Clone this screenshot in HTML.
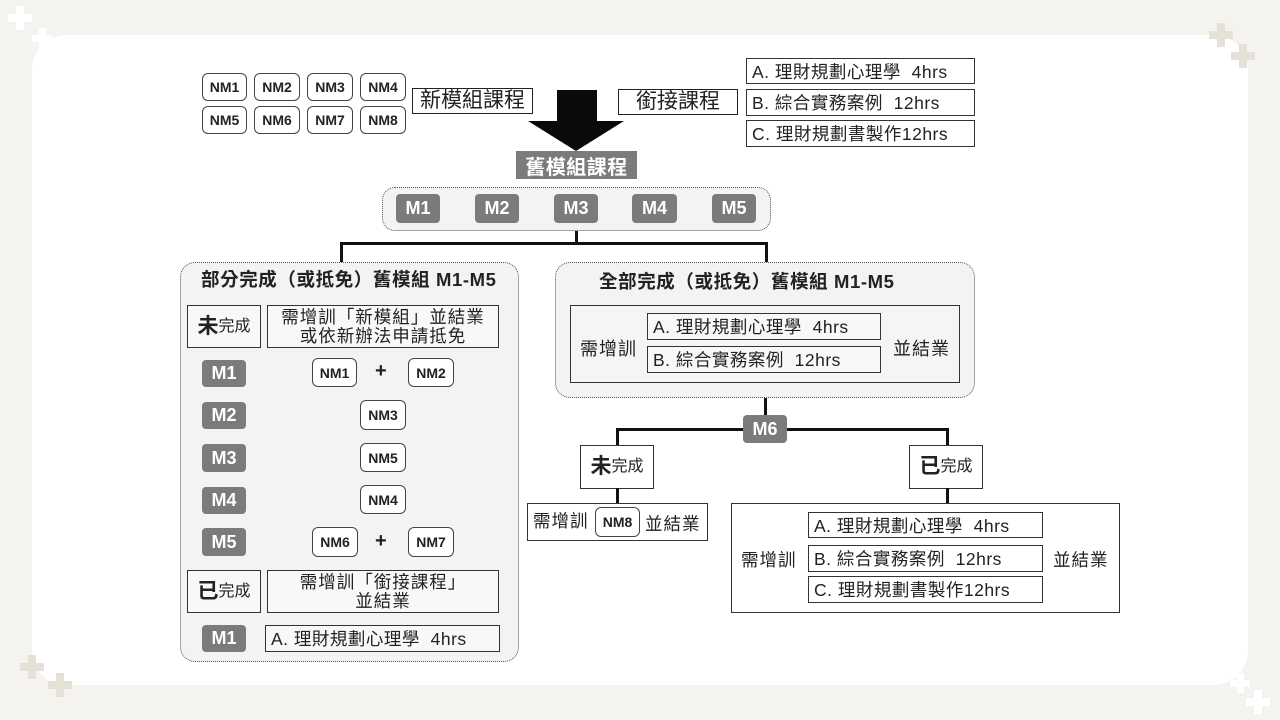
<!DOCTYPE html>
<html><head><meta charset="utf-8">
<style>
*{margin:0;padding:0;box-sizing:border-box}
html,body{width:1280px;height:720px;overflow:hidden;background:#f5f3ef}
body{position:relative;font-family:"Liberation Sans","Noto Sans CJK TC",sans-serif;color:#222}
.card{position:absolute;left:32px;top:35px;width:1216px;height:650px;background:#fff;border-radius:34px}
.x{position:absolute}
.b{position:absolute;border:1.5px solid #333;display:flex;align-items:center;justify-content:center;text-align:center;white-space:nowrap;line-height:1.1}
.nm{position:absolute;border:1.5px solid #444;border-radius:6px;background:#fff;display:flex;align-items:center;justify-content:center;font-weight:bold;font-size:14px;color:#222}
.m{position:absolute;background:#7b7b7b;border-radius:4px;color:#fff;font-weight:bold;font-size:18px;display:flex;align-items:center;justify-content:center}
.l{position:absolute;background:#111}
.dot{position:absolute;border:1.6px dotted #555;background:#f3f3f3}
.t{position:absolute;white-space:nowrap}
.abc{position:absolute;border:1.5px solid #333;background:#fff;font-size:17.5px;padding-left:5px;display:flex;align-items:center;white-space:nowrap;letter-spacing:0.5px}
.cjk{font-size:18px;letter-spacing:1px}
.plus{position:absolute;font-size:20px;font-weight:bold;color:#222}
</style></head><body>
<div class="card"></div>

<!-- crosses -->
<div class="x" style="left:8px;top:14px;width:24px;height:8px;background:#fff"></div>
<div class="x" style="left:16px;top:6px;width:8px;height:24px;background:#fff"></div>
<div class="x" style="left:32px;top:35px;width:20px;height:7px;background:#fff"></div>
<div class="x" style="left:38.5px;top:28px;width:7px;height:20px;background:#fff"></div>

<div class="x" style="left:1209px;top:31px;width:24px;height:8px;background:#e5e1d7"></div>
<div class="x" style="left:1217px;top:23px;width:8px;height:24px;background:#e5e1d7"></div>
<div class="x" style="left:1231px;top:52px;width:24px;height:8px;background:#e5e1d7"></div>
<div class="x" style="left:1239px;top:44px;width:8px;height:24px;background:#e5e1d7"></div>

<div class="x" style="left:20px;top:663px;width:24px;height:8px;background:#e5e1d7"></div>
<div class="x" style="left:28px;top:655px;width:8px;height:24px;background:#e5e1d7"></div>
<div class="x" style="left:48px;top:681px;width:24px;height:8px;background:#e5e1d7"></div>
<div class="x" style="left:56px;top:673px;width:8px;height:24px;background:#e5e1d7"></div>

<div class="x" style="left:1230px;top:680px;width:20px;height:7px;background:#fff"></div>
<div class="x" style="left:1236.5px;top:673px;width:7px;height:20px;background:#fff"></div>
<div class="x" style="left:1246px;top:698px;width:24px;height:8px;background:#fff"></div>
<div class="x" style="left:1254px;top:690px;width:8px;height:24px;background:#fff"></div>

<!-- top NM grid -->
<div class="nm" style="left:202px;top:73px;width:45px;height:28px">NM1</div>
<div class="nm" style="left:254px;top:73px;width:46px;height:28px">NM2</div>
<div class="nm" style="left:307px;top:73px;width:46px;height:28px">NM3</div>
<div class="nm" style="left:360px;top:73px;width:46px;height:28px">NM4</div>
<div class="nm" style="left:202px;top:106px;width:45px;height:28px">NM5</div>
<div class="nm" style="left:254px;top:106px;width:46px;height:28px">NM6</div>
<div class="nm" style="left:307px;top:106px;width:46px;height:28px">NM7</div>
<div class="nm" style="left:360px;top:106px;width:46px;height:28px">NM8</div>

<div class="b" style="left:412px;top:88px;width:121px;height:26px;font-size:21px;background:#fff;border-color:#222">新模組課程</div>

<!-- arrow -->
<svg style="position:absolute;left:0;top:0" width="1280" height="720">
<polygon points="557,90 597,90 597,121 624,121 576,151 528,121 557,121" fill="#0a0a0a"/>
</svg>

<div class="b" style="left:618px;top:89px;width:120px;height:26px;font-size:21px;background:#fff;border-color:#222">銜接課程</div>

<div class="abc" style="left:746px;top:58px;width:229px;height:26px">A. 理財規劃心理學&nbsp; 4hrs</div>
<div class="abc" style="left:746px;top:89px;width:229px;height:27px">B. 綜合實務案例&nbsp; 12hrs</div>
<div class="abc" style="left:746px;top:120px;width:229px;height:27px">C. 理財規劃書製作12hrs</div>

<div class="x" style="left:516px;top:151px;width:121px;height:28px;background:#7b7b7b;color:#fff;font-weight:bold;font-size:20px;display:flex;align-items:center;justify-content:center;letter-spacing:0.5px">舊模組課程</div>

<!-- M1-M5 container -->
<div class="dot" style="left:382px;top:187px;width:389px;height:44px;border-radius:13px"></div>
<div class="m" style="left:396px;top:194px;width:44px;height:29px">M1</div>
<div class="m" style="left:475px;top:194px;width:44px;height:29px">M2</div>
<div class="m" style="left:554px;top:194px;width:44px;height:29px">M3</div>
<div class="m" style="left:632px;top:194px;width:45px;height:29px">M4</div>
<div class="m" style="left:712px;top:194px;width:44px;height:29px">M5</div>

<!-- top connectors -->
<div class="l" style="left:575px;top:231px;width:3px;height:13px"></div>
<div class="l" style="left:340px;top:242px;width:428px;height:3px"></div>
<div class="l" style="left:340px;top:242px;width:3px;height:21px"></div>
<div class="l" style="left:765px;top:242px;width:3px;height:21px"></div>

<!-- left panel -->
<div class="dot" style="left:180px;top:262px;width:339px;height:400px;border-radius:15px"></div>
<div class="t" style="left:201px;top:266px;font-size:18.5px;font-weight:bold;letter-spacing:0.6px">部分完成（或抵免）舊模組 M1-M5</div>

<div class="b" style="left:187px;top:305px;width:74px;height:43px;background:#f8f8f8"><span style="font-size:21px;font-weight:bold">未</span><span style="font-size:16px">完成</span></div>
<div class="b cjk" style="left:267px;top:305px;width:232px;height:43px;background:#f8f8f8;flex-direction:column;line-height:19px;font-size:17.5px">需增訓「新模組」並結業<br>或依新辦法申請抵免</div>

<div class="m" style="left:202px;top:360px;width:44px;height:27px">M1</div>
<div class="nm" style="left:312px;top:358px;width:45px;height:29px">NM1</div>
<div class="plus" style="left:375px;top:360px">+</div>
<div class="nm" style="left:408px;top:358px;width:46px;height:29px">NM2</div>

<div class="m" style="left:202px;top:402px;width:44px;height:27px">M2</div>
<div class="nm" style="left:360px;top:400px;width:46px;height:30px">NM3</div>

<div class="m" style="left:202px;top:444px;width:44px;height:28px">M3</div>
<div class="nm" style="left:360px;top:443px;width:46px;height:29px">NM5</div>

<div class="m" style="left:202px;top:487px;width:44px;height:27px">M4</div>
<div class="nm" style="left:360px;top:485px;width:46px;height:29px">NM4</div>

<div class="m" style="left:202px;top:528px;width:44px;height:28px">M5</div>
<div class="nm" style="left:312px;top:527px;width:46px;height:30px">NM6</div>
<div class="plus" style="left:375px;top:530px">+</div>
<div class="nm" style="left:408px;top:527px;width:46px;height:30px">NM7</div>

<div class="b" style="left:187px;top:570px;width:74px;height:43px;background:#f8f8f8"><span style="font-size:21px;font-weight:bold">已</span><span style="font-size:16px">完成</span></div>
<div class="b cjk" style="left:267px;top:570px;width:232px;height:43px;background:#f8f8f8;flex-direction:column;line-height:19px;font-size:17.5px">需增訓「銜接課程」<br>並結業</div>

<div class="m" style="left:202px;top:625px;width:44px;height:27px">M1</div>
<div class="abc" style="left:265px;top:625px;width:235px;height:27px;background:#f8f8f8">A. 理財規劃心理學&nbsp; 4hrs</div>

<!-- right panel -->
<div class="dot" style="left:555px;top:262px;width:420px;height:136px;border-radius:15px"></div>
<div class="t" style="left:599px;top:268px;font-size:18.5px;font-weight:bold;letter-spacing:0.6px">全部完成（或抵免）舊模組 M1-M5</div>
<div class="b" style="left:570px;top:305px;width:390px;height:78px;background:#f5f5f5"></div>
<div class="t cjk" style="left:580px;top:335px">需增訓</div>
<div class="abc" style="left:647px;top:313px;width:234px;height:27px;background:#f8f8f8">A. 理財規劃心理學&nbsp; 4hrs</div>
<div class="abc" style="left:647px;top:346px;width:234px;height:27px;background:#f8f8f8">B. 綜合實務案例&nbsp; 12hrs</div>
<div class="t cjk" style="left:893px;top:335px">並結業</div>

<!-- M6 branch -->
<div class="l" style="left:764px;top:398px;width:3px;height:18px"></div>
<div class="l" style="left:616px;top:428px;width:333px;height:3px"></div>
<div class="l" style="left:616px;top:428px;width:3px;height:18px"></div>
<div class="l" style="left:946px;top:428px;width:3px;height:18px"></div>
<div class="m" style="left:743px;top:415px;width:44px;height:28px">M6</div>

<div class="b" style="left:580px;top:445px;width:74px;height:44px;background:#fff"><span style="font-size:21px;font-weight:bold">未</span><span style="font-size:16px">完成</span></div>
<div class="l" style="left:616px;top:488px;width:3px;height:16px"></div>
<div class="b" style="left:527px;top:503px;width:181px;height:38px;background:#fff;justify-content:flex-start;padding-left:5px">
<span class="cjk" style="font-size:17.5px">需增訓</span></div>
<div class="nm" style="left:595px;top:507px;width:45px;height:30px">NM8</div>
<div class="t cjk" style="left:645px;top:511px;font-size:17.5px">並結業</div>

<div class="b" style="left:909px;top:445px;width:74px;height:44px;background:#fff"><span style="font-size:21px;font-weight:bold">已</span><span style="font-size:16px">完成</span></div>
<div class="l" style="left:946px;top:488px;width:3px;height:16px"></div>
<div class="b" style="left:731px;top:503px;width:389px;height:110px;background:#fff"></div>
<div class="t cjk" style="left:741px;top:547px;font-size:17.5px">需增訓</div>
<div class="abc" style="left:808px;top:512px;width:235px;height:26px">A. 理財規劃心理學&nbsp; 4hrs</div>
<div class="abc" style="left:808px;top:545px;width:235px;height:27px">B. 綜合實務案例&nbsp; 12hrs</div>
<div class="abc" style="left:808px;top:576px;width:235px;height:27px">C. 理財規劃書製作12hrs</div>
<div class="t cjk" style="left:1053px;top:547px;font-size:17.5px">並結業</div>

</body></html>
